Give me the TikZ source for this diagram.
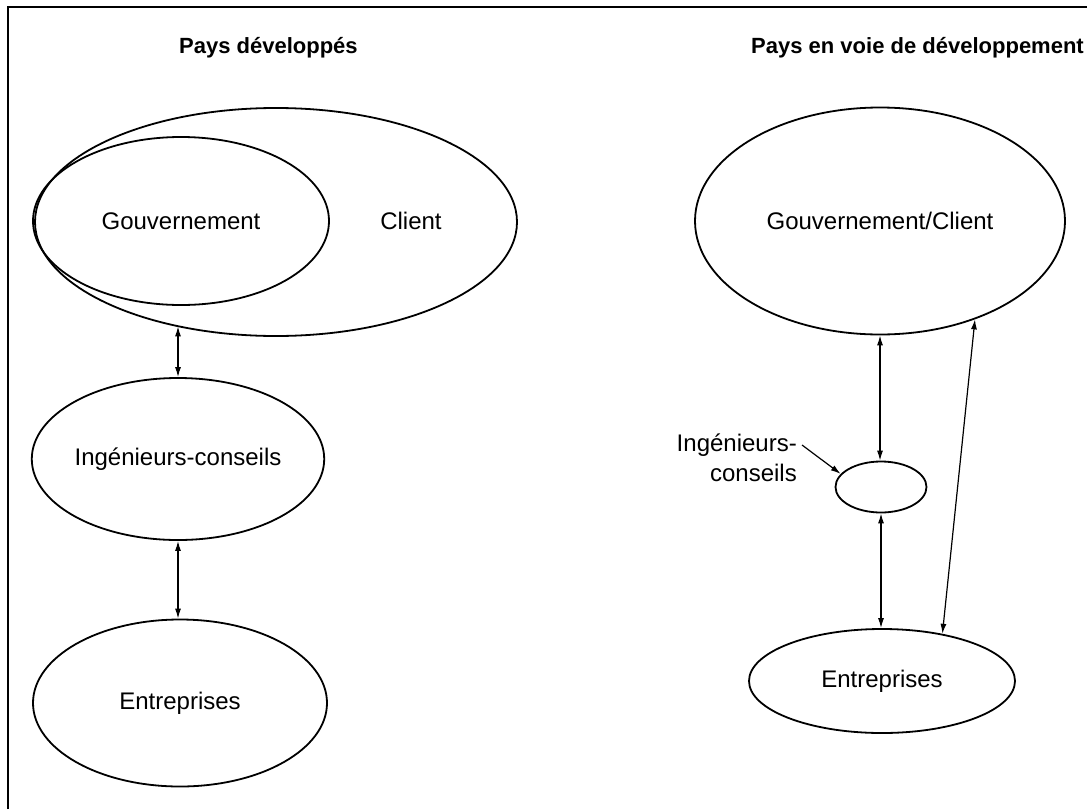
\documentclass[tikz,border=0pt]{standalone}
\usepackage{fontspec}
\setmainfont{Liberation Sans}
\usetikzlibrary{shapes.geometric,arrows.meta}
\begin{document}
\begin{tikzpicture}[x=1pt,y=-1pt,
  ell/.style={draw, ellipse, line width=1.8pt, inner sep=0pt, font=\fontsize{24}{30}\selectfont},
  txt/.style={font=\fontsize{24}{30}\selectfont, inner sep=0pt},
  ttl/.style={font=\fontsize{22}{27}\selectfont\bfseries, inner sep=0pt},
  frame/.style={line width=2pt},
  dbl/.style={line width=1.2pt, {Latex[length=10pt,width=6pt]}-{Latex[length=10pt,width=6pt]}},
  sgl/.style={line width=1.2pt, -{Latex[length=10pt,width=6pt]}}]
\useasboundingbox (0,0) rectangle (1087,809);
\draw[frame] (8,809) -- (8,7) -- (1087,7);
% titles
\node[ttl, anchor=base west] (t1) at (179,53) {Pays développés};
\node[ttl, anchor=base east] (t2) at (1084,53) {Pays en voie de développement};
% left column
\node[ell, minimum width=482, minimum height=228] (client) at (276,222) {};
\node[ell, minimum width=296, minimum height=168] (gouv) at (181,221) {Gouvernement};
\node[txt] (clienttxt) at (411,221) {Client};
\node[ell, minimum width=292, minimum height=162] (ing) at (178,459) {Ingénieurs-conseils};
\node[ell, minimum width=294, minimum height=167] (entL) at (180,703) {Entreprises};
\draw[dbl] (ing.north |- client.226.7) -- (ing.north);
\draw[dbl] (ing.south) -- (ing.south |- entL.north);
% right column
\node[ell, minimum width=370, minimum height=227] (gc) at (880,221) {Gouvernement/Client};
\node[ell, minimum width=91, minimum height=51] (ic) at (881,487) {};
\node[ell, minimum width=266, minimum height=104] (entR) at (882,681) {Entreprises};
\node[txt, align=right, anchor=east] (lbl) at (797,458) {Ingénieurs-\\conseils};
\coordinate (lblarrow) at (802,445);
\draw[dbl] (gc.south) -- (gc.south |- ic.north);
\draw[dbl] (ic.south) -- (ic.south |- entR.north);
\draw[dbl] (gc.314.7) -- (entR.38.3);
\draw[sgl] (lblarrow) -- (ic.162);
\end{tikzpicture}
\end{document}
